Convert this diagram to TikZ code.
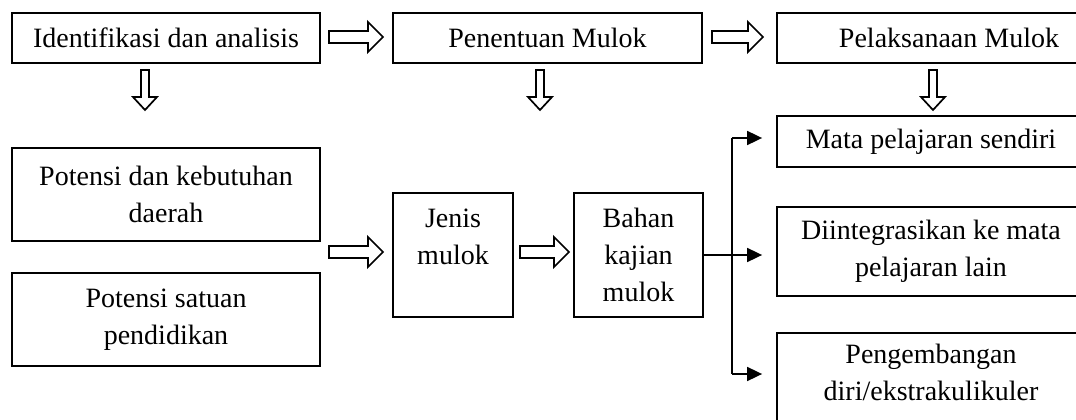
\documentclass[tikz,border=0pt]{standalone}
\usepackage{fontspec}
\setmainfont{Liberation Serif}
\usetikzlibrary{arrows.meta,calc}
\newcommand\rtarrow[3]{%
  \draw[hollow] (#1,#2) ++(0,-6) -- ++(#3-15,0) -- ++(0,-9) -- ++(15,15) -- ++(-15,15) -- ++(0,-9) -- ++(-#3+15,0) -- cycle;}
\newcommand\dnarrow[2]{%
  \draw[hollow] (#1,#2) ++(-4,0) -- ++(0,27) -- ++(-8,0) -- ++(12,13) -- ++(12,-13) -- ++(-8,0) -- ++(0,-27) -- cycle;}
\begin{document}
\begin{tikzpicture}[x=1pt,y=-1pt,
  box/.style={draw,line width=1.8pt,inner sep=0pt,align=center,font=\fontsize{28}{37}\selectfont},
  txt/.style={inner sep=0pt,align=center,font=\fontsize{28}{37}\selectfont},
  hollow/.style={draw,line width=1.7pt,fill=white,line join=miter},
  conn/.style={line width=1.8pt},
  tip/.style={conn,-{Triangle[length=15pt,width=14pt]},shorten >=14pt}]
\useasboundingbox (0,0) rectangle (1076,420);
% top row
\node[box,minimum width=308pt,minimum height=50pt] (ident) at (166,38) {Identifikasi dan analisis};
\node[box,minimum width=309pt,minimum height=50pt] (pen) at (547.5,38) {Penentuan Mulok};
\node[box,minimum width=344pt,minimum height=50pt] (pel) at (949,38) {Pelaksanaan Mulok};
% left column
\node[box,minimum width=308pt,minimum height=93pt] (pkd) at (166,194.5) {Potensi dan kebutuhan\\daerah};
\node[box,minimum width=308pt,minimum height=93pt] (psp) at (166,319.5) {Potensi satuan\\pendidikan};
% middle
\node[box,minimum width=120pt,minimum height=124pt] (jenis) at (453,255) {Jenis\\mulok\\\mbox{}};
\node[box,minimum width=129pt,minimum height=124pt] (bahan) at (638.5,255) {Bahan\\kajian\\mulok};
% right column
\node[box,minimum width=308pt,minimum height=51pt] (mata) at (931,141.5) {Mata pelajaran sendiri};
\node[box,minimum width=308pt,minimum height=89pt] (diint) at (931,251.5) {Diintegrasikan ke mata\\pelajaran lain};
\node[box,minimum width=308pt,minimum height=110pt,anchor=north] (peng) at (931,332) {};
\node[txt,anchor=north] (pengt) at ([yshift=-12pt]peng.north) {Pengembangan\\diri/ekstrakulikuler};
% hollow arrows
\rtarrow{329}{37}{54}
\rtarrow{712}{37}{51}
\dnarrow{145}{70}
\dnarrow{540}{70}
\dnarrow{933}{70}
\rtarrow{329}{252}{54}
\rtarrow{520}{252}{49}
% connectors
\coordinate (jt) at (732,138);
\coordinate (jb) at (732,374);
\draw[conn] (jt) -- (jb);
\draw[tip] (bahan.east) -- (bahan.east -| mata.west);
\draw[tip] (jt) -- (jt -| mata.west);
\draw[tip] (jb) -- (jb -| peng.west);
\end{tikzpicture}
\end{document}
